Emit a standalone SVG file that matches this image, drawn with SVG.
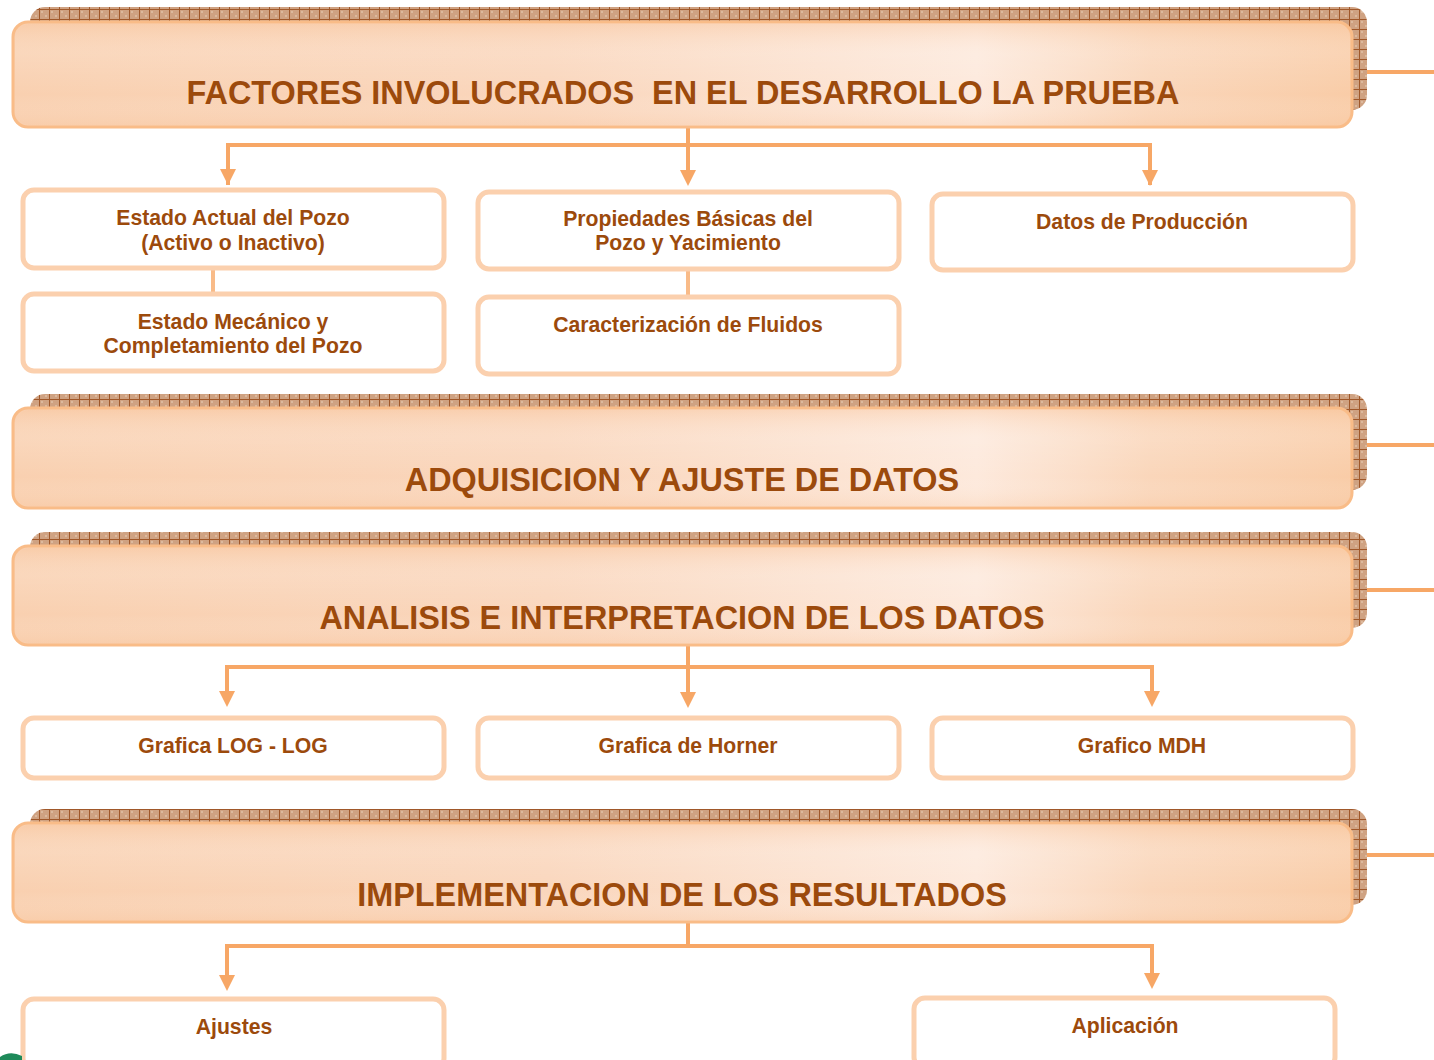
<svg xmlns="http://www.w3.org/2000/svg" width="1434" height="1060" viewBox="0 0 1434 1060">
<style>
.hdr{fill:url(#hg);stroke:#f9bc88;stroke-width:3}
.hdrhl{fill:url(#hl)}
.shadow{fill:url(#grid)}
.box{fill:#ffffff;stroke:#fbd0ae;stroke-width:5}
.ht{font-family:"Liberation Sans",Arial,sans-serif;font-weight:bold;font-size:32.4px;fill:#9c4a0c;text-anchor:middle;white-space:pre}
.bt{font-family:"Liberation Sans",Arial,sans-serif;font-weight:bold;font-size:21.2px;fill:#9c4a0c;text-anchor:middle}
.ln{fill:none;stroke:#f7a766;stroke-width:4}
.lnl{fill:none;stroke:#f9bb88;stroke-width:4}
.side{stroke:#f7a766;stroke-width:4}
</style>
<defs>
<pattern id="grid" width="10" height="10" patternUnits="userSpaceOnUse">
<rect width="10" height="10" fill="#cfa282"/>
<rect x="1" y="1" width="2" height="2" fill="#dcb99d"/>
<rect x="5" y="5" width="2" height="2" fill="#dcb99d"/>
<path d="M9.5 0V10M0 9.5H10" stroke="#a0582a" stroke-width="1"/>
</pattern>
<linearGradient id="hg" x1="0" y1="0" x2="1" y2="0">
<stop offset="0" stop-color="#f9d0b0"/>
<stop offset="0.4" stop-color="#fad6bc"/>
<stop offset="0.72" stop-color="#fde9dc"/>
<stop offset="0.85" stop-color="#fad6ba"/>
<stop offset="1" stop-color="#f9cca7"/>
</linearGradient>
<linearGradient id="hl" x1="0" y1="0" x2="0" y2="1">
<stop offset="0" stop-color="#f8c59c" stop-opacity="0.35"/>
<stop offset="0.3" stop-color="#ffffff" stop-opacity="0.15"/>
<stop offset="0.7" stop-color="#ffffff" stop-opacity="0"/>
<stop offset="1" stop-color="#f8c59c" stop-opacity="0.25"/>
</linearGradient>
</defs>

<g id="connectors">
<line class="side" x1="1352" y1="72" x2="1434" y2="72"/>
<line class="side" x1="1352" y1="445" x2="1434" y2="445"/>
<line class="side" x1="1352" y1="590" x2="1434" y2="590"/>
<line class="side" x1="1352" y1="855" x2="1434" y2="855"/>
<path class="ln" d="M228 185V145H1150V185"/>
<line class="ln" x1="688" y1="122" x2="688" y2="170"/>
<path d="M220 169L236 169L228 185Z M680 170L696 170L688 186Z M1142 170L1158 170L1150 186Z" fill="#f7a766"/>
<line class="lnl" x1="213" y1="269" x2="213" y2="293"/>
<line class="lnl" x1="688" y1="270" x2="688" y2="296"/>
<path class="ln" d="M227 692V667H1152V692"/>
<line class="ln" x1="688" y1="645" x2="688" y2="693"/>
<path d="M219 691L235 691L227 707Z M680 692L696 692L688 708Z M1144 691L1160 691L1152 707Z" fill="#f7a766"/>
<path class="ln" d="M227 975V946H1152V973"/>
<line class="ln" x1="688" y1="922" x2="688" y2="946"/>
<path d="M219 975L235 975L227 991Z M1144 973L1160 973L1152 989Z" fill="#f7a766"/>
</g>

<g id="header1">
<rect class="shadow" x="30" y="7" width="1337" height="103" rx="15"/>
<rect class="hdr" x="13" y="22" width="1339" height="105" rx="15"/>
<rect class="hdrhl" x="15" y="24" width="1335" height="101" rx="14"/>
<text class="ht" x="683" y="104" xml:space="preserve">FACTORES INVOLUCRADOS  EN EL DESARROLLO LA PRUEBA</text>
</g>

<g id="node-estado-actual">
<rect class="box" x="23" y="190" width="421" height="78" rx="11"/>
<text class="bt" x="233" y="225">Estado Actual del Pozo</text>
<text class="bt" x="233" y="250">(Activo o Inactivo)</text>
</g>
<g id="node-propiedades">
<rect class="box" x="478" y="192" width="421" height="77" rx="11"/>
<text class="bt" x="688" y="226">Propiedades Básicas del</text>
<text class="bt" x="688" y="250">Pozo y Yacimiento</text>
</g>
<g id="node-datos-produccion">
<rect class="box" x="932" y="194" width="421" height="76" rx="11"/>
<text class="bt" x="1142" y="229">Datos de Producción</text>
</g>
<g id="node-estado-mecanico">
<rect class="box" x="23" y="294" width="421" height="77" rx="11"/>
<text class="bt" x="233" y="329">Estado Mecánico y</text>
<text class="bt" x="233" y="353">Completamiento del Pozo</text>
</g>
<g id="node-caracterizacion">
<rect class="box" x="478" y="297" width="421" height="77" rx="11"/>
<text class="bt" x="688" y="332">Caracterización de Fluidos</text>
</g>

<g id="header2">
<rect class="shadow" x="30" y="394" width="1337" height="96" rx="15"/>
<rect class="hdr" x="13" y="408" width="1339" height="100" rx="15"/>
<rect class="hdrhl" x="15" y="410" width="1335" height="96" rx="14"/>
<text class="ht" x="682" y="491">ADQUISICION Y AJUSTE DE DATOS</text>
</g>

<g id="header3">
<rect class="shadow" x="30" y="532" width="1337" height="96" rx="15"/>
<rect class="hdr" x="13" y="546" width="1339" height="99" rx="15"/>
<rect class="hdrhl" x="15" y="548" width="1335" height="95" rx="14"/>
<text class="ht" x="682" y="629">ANALISIS E INTERPRETACION DE LOS DATOS</text>
</g>

<g id="node-loglog">
<rect class="box" x="23" y="718" width="421" height="60" rx="11"/>
<text class="bt" x="233" y="753">Grafica LOG - LOG</text>
</g>
<g id="node-horner">
<rect class="box" x="478" y="718" width="421" height="60" rx="11"/>
<text class="bt" x="688" y="753">Grafica de Horner</text>
</g>
<g id="node-mdh">
<rect class="box" x="932" y="718" width="421" height="60" rx="11"/>
<text class="bt" x="1142" y="753">Grafico MDH</text>
</g>

<g id="header4">
<rect class="shadow" x="30" y="809" width="1337" height="96" rx="15"/>
<rect class="hdr" x="13" y="823" width="1339" height="99" rx="15"/>
<rect class="hdrhl" x="15" y="825" width="1335" height="95" rx="14"/>
<text class="ht" x="682" y="906">IMPLEMENTACION DE LOS RESULTADOS</text>
</g>

<g id="node-ajustes">
<rect class="box" x="23" y="999" width="421" height="70" rx="11"/>
<text class="bt" x="234" y="1034">Ajustes</text>
</g>
<g id="node-aplicacion">
<rect class="box" x="914" y="998" width="421" height="70" rx="11"/>
<text class="bt" x="1125" y="1033">Aplicación</text>
</g>

<path d="M0 1057Q10 1050 22 1056L22 1060L0 1060Z" fill="#1e8a5a"/>
</svg>
